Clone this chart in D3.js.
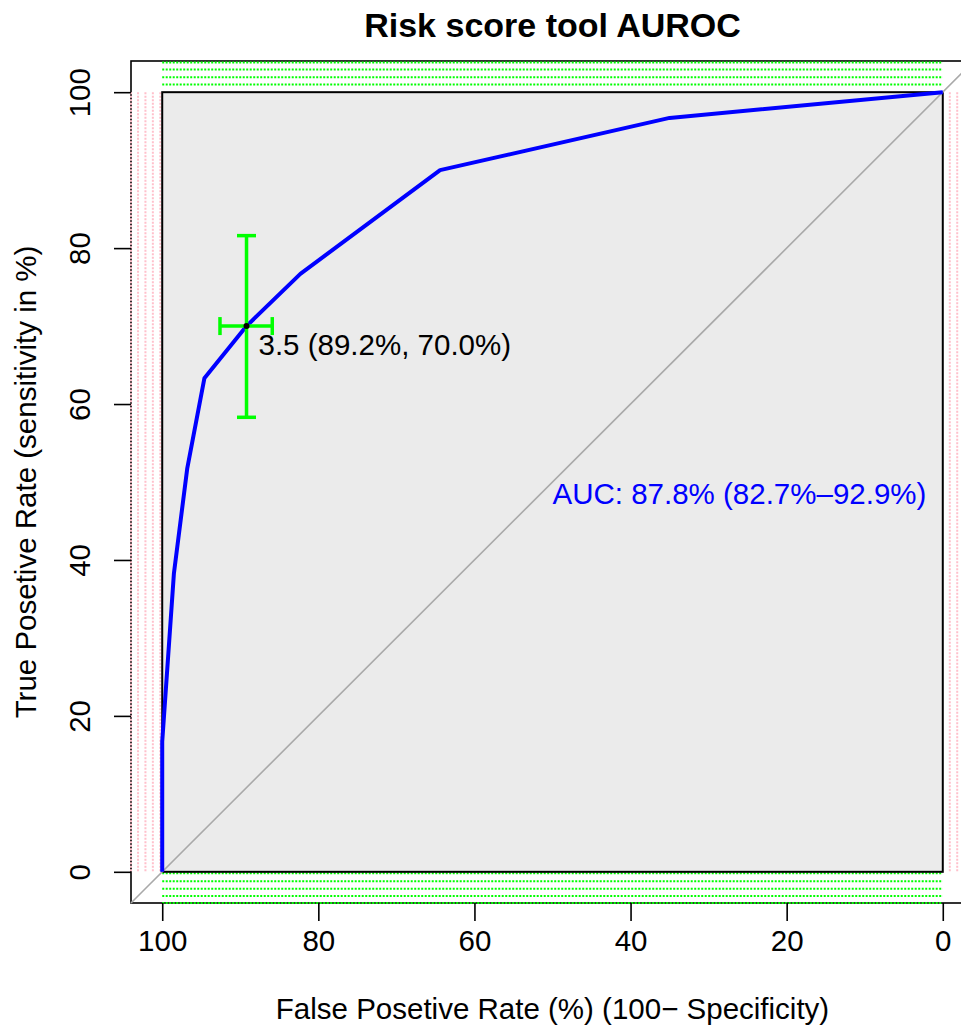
<!DOCTYPE html>
<html>
<head>
<meta charset="utf-8">
<script src="https://cdn.jsdelivr.net/npm/d3@7"></script>
<style>
  body { margin: 0; background: #fff; }
  svg { display: block; font-family: "Liberation Sans", Arial, sans-serif; }
</style>
</head>
<body>
<div class="graph"></div>
<script>
const w = 961;
const h = 1028;
const margin = {top: 61, right: -13, bottom: 125, left: 131};

// ROC curve (specificity %, sensitivity %)
const specificity = [100, 100, 98.5, 96.8, 94.6, 89.2, 82.3, 64.4, 35.0, 0];
const sensitivity = [0, 16.7, 38.3, 51.7, 63.3, 70.0, 76.7, 90.0, 96.7, 100];

// best threshold with its confidence intervals
const thrLabel = "3.5 (89.2%, 70.0%)";
const thrPoint = [89.2, 70.0];
const thrSpecCI = [92.6, 85.9];
const thrSensCI = [58.3, 81.6];

const aucLabel = "AUC: 87.8% (82.7%\u201392.9%)";

const xTicks = [100, 80, 60, 40, 20, 0];
const yTicks = [0, 20, 40, 60, 80, 100];

// grid lines that stay visible outside the shaded square
const gridV = [104, 103.1, 102.15, 101.2, 100.25, -0.9, -1.85, -2.8, -3.75];
const gridH = [103.8, 102.9, 101.9, 101.0, -0.17, -1.2, -2.16, -3.1, -4.0];

const fs = 29.5;

const canvas = d3.select('.graph')
               .append("svg")
               .attr("width", w)
               .attr("height", h);

const x = d3.scaleLinear()
            .domain([104, -4])
            .range([margin.left, w - margin.right]);
const y = d3.scaleLinear()
            .domain([-4, 104])
            .range([h - margin.bottom, margin.top]);

// shaded square
canvas.append("rect")
      .attr("x", x(100))
      .attr("y", y(100))
      .attr("width", x(0) - x(100))
      .attr("height", y(0) - y(100))
      .attr("fill", "#EBEBEB");

// plot box
canvas.append("rect")
      .attr("x", margin.left)
      .attr("y", margin.top)
      .attr("width", x(-4) - margin.left)
      .attr("height", y(-4) - margin.top)
      .attr("fill", "none")
      .attr("stroke", "#000")
      .attr("stroke-width", 1.6);

//grid
canvas.selectAll(".gv")
      .data(gridV)
      .enter().append("line")
      .attr("class", "gv")
      .attr("x1", d => x(d)).attr("x2", d => x(d))
      .attr("y1", y(100)).attr("y2", y(0))
      .attr("stroke", "#FFC0CB")
      .attr("stroke-width", 2)
      .attr("stroke-dasharray", "2,1.5");

canvas.selectAll(".gh")
      .data(gridH)
      .enter().append("line")
      .attr("class", "gh")
      .attr("x1", x(100)).attr("x2", x(0))
      .attr("y1", d => y(d)).attr("y2", d => y(d))
      .attr("stroke", "#00FF00")
      .attr("stroke-width", 2)
      .attr("stroke-dasharray", "2,1.5");

canvas.append("rect")
      .attr("x", x(100))
      .attr("y", y(100))
      .attr("width", x(0) - x(100))
      .attr("height", y(0) - y(100))
      .attr("fill", "none")
      .attr("stroke", "#000")
      .attr("stroke-width", 2);

// diagonal
canvas.append("line")
      .attr("x1", x(104)).attr("y1", y(-4))
      .attr("x2", x(-4)).attr("y2", y(104))
      .attr("stroke", "#A9A9A9")
      .attr("stroke-width", 1.6);

// axes
const xAxis = d3.axisBottom(x)
                .tickValues(xTicks)
                .tickSize(18)
                .tickPadding(9);
const gx = canvas.append("g")
      .attr("transform", `translate(0, ${y(-4)})`)
      .call(xAxis);
gx.select(".domain").remove();

const yAxis = d3.axisLeft(y)
                .tickValues(yTicks)
                .tickSize(17);
const gy = canvas.append("g")
      .attr("transform", `translate(${margin.left}, 0)`)
      .call(yAxis);
gy.select(".domain").remove();
gy.selectAll("text")
  .attr("transform", "rotate(-90)")
  .attr("x", 0)
  .attr("y", -41)
  .attr("dy", 0)
  .attr("text-anchor", "middle");

canvas.selectAll(".tick line").attr("stroke", "#000").attr("stroke-width", 1.6);
canvas.selectAll(".tick text")
      .attr("font-size", fs)
      .attr("font-family", "Liberation Sans, Arial, sans-serif")
      .attr("fill", "#000");

// ROC curve
const line = d3.line()
               .x((d, i) => x(specificity[i]))
               .y((d, i) => y(sensitivity[i]));
canvas.append("path")
      .datum(specificity)
      .attr("d", line)
      .attr("fill", "none")
      .attr("stroke", "#0000FF")
      .attr("stroke-width", 4)
      .attr("stroke-linejoin", "round");

// threshold CI bars
const ci = canvas.append("g")
                 .attr("stroke", "#00FF00")
                 .attr("stroke-width", 3.5);
ci.append("line")
  .attr("x1", x(thrPoint[0])).attr("x2", x(thrPoint[0]))
  .attr("y1", y(thrSensCI[0])).attr("y2", y(thrSensCI[1]));
thrSensCI.forEach(v => {
  ci.append("line")
    .attr("x1", x(thrPoint[0]) - 9.5).attr("x2", x(thrPoint[0]) + 9.5)
    .attr("y1", y(v)).attr("y2", y(v));
});
ci.append("line")
  .attr("x1", x(thrSpecCI[0])).attr("x2", x(thrSpecCI[1]))
  .attr("y1", y(thrPoint[1])).attr("y2", y(thrPoint[1]));
thrSpecCI.forEach(v => {
  ci.append("line")
    .attr("x1", x(v)).attr("x2", x(v))
    .attr("y1", y(thrPoint[1]) - 9).attr("y2", y(thrPoint[1]) + 9);
});

canvas.append("circle")
      .attr("cx", x(thrPoint[0]))
      .attr("cy", y(thrPoint[1]))
      .attr("r", 3)
      .attr("fill", "#000");

canvas.append("text")
      .attr("x", x(thrPoint[0]) + 12)
      .attr("y", y(thrPoint[1]) + 29)
      .attr("font-size", fs)
      .text(thrLabel);

canvas.append("text")
      .attr("x", x(50))
      .attr("y", y(50) + 22)
      .attr("font-size", fs)
      .attr("fill", "#0000FF")
      .text(aucLabel);

// titles
canvas.append("text")
      .attr("x", (margin.left + x(-4)) / 2)
      .attr("y", 37)
      .attr("text-anchor", "middle")
      .attr("font-size", 34)
      .attr("font-weight", "bold")
      .text("Risk score tool AUROC");

canvas.append("text")
      .attr("x", (margin.left + x(-4)) / 2)
      .attr("y", 1019)
      .attr("text-anchor", "middle")
      .attr("font-size", fs)
      .text("False Posetive Rate (%) (100\u2212 Specificity)");

canvas.append("text")
      .attr("transform", `translate(36, ${(y(-4) + margin.top) / 2}) rotate(-90)`)
      .attr("text-anchor", "middle")
      .attr("font-size", fs)
      .text("True Posetive Rate (sensitivity in %)");
</script>
</body>
</html>
